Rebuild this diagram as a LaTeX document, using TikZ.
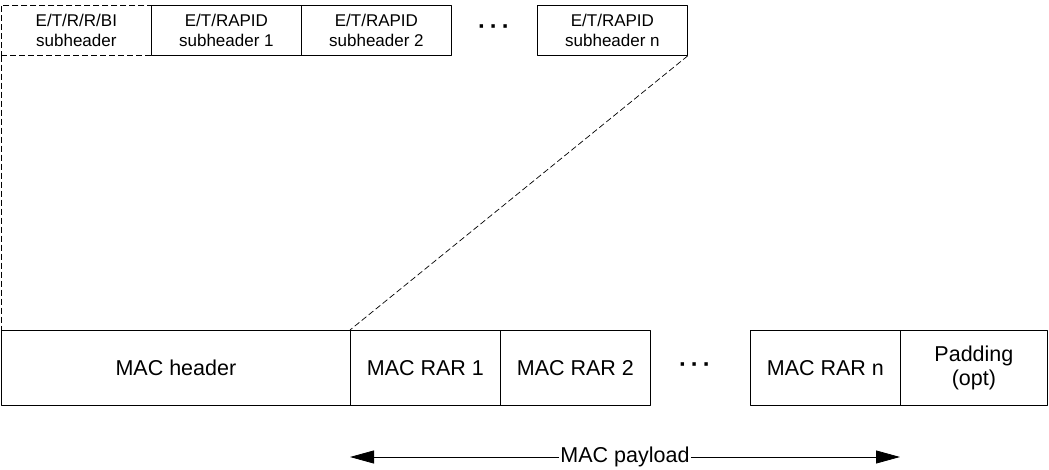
\documentclass[tikz,border=0pt]{standalone}
\usepackage{fontspec}
\setmainfont{Liberation Sans}
\usetikzlibrary{arrows.meta}
\begin{document}
\begin{tikzpicture}[x=1pt,y=-1pt, >={Triangle[length=24pt,width=13pt]}, line width=0.8pt, line join=round,
	subhdr/.style={draw, minimum width=150pt, minimum height=50pt, anchor=north west, inner sep=0pt, align=center, font=\fontsize{17}{19.5}\selectfont},
	pdu/.style={draw, minimum width=150pt, minimum height=75pt, anchor=north west, inner sep=0pt, align=center, font=\fontsize{21.5}{24}\selectfont},
	dots/.style={inner sep=0pt, font=\fontsize{24}{24}\selectfont\bfseries},
	expand/.style={dash pattern=on 6pt off 3pt, line width=0.7pt}]
	\useasboundingbox (0,0) rectangle (1049,470);
	% subheaders
	\node[subhdr, expand] (bi) at (1,5) {E/T/R/R/BI\\subheader};
	\node[subhdr] (sh1) at (151,5) {E/T/RAPID\\subheader 1};
	\node[subhdr] (sh2) at (301,5) {E/T/RAPID\\subheader 2};
	\node[dots] (tdots) at (494,30) {·\,·\,·};
	\node[subhdr] (shn) at (537,5) {E/T/RAPID\\subheader n};
	% MAC PDU
	\node[pdu, minimum width=349pt] (hdr) at (1,330) {MAC header};
	\node[pdu] (rar1) at (350,330) {MAC RAR 1};
	\node[pdu] (rar2) at (500,330) {MAC RAR 2};
	\node[dots] (bdots) at (695,368) {·\,·\,·};
	\node[pdu] (rarn) at (750,330) {MAC RAR n};
	\node[pdu, minimum width=147pt] (pad) at (900,330) {Padding\\(opt)};
	% expansion lines
	\draw[expand] (bi.south west) -- (hdr.north west);
	\draw[expand] (shn.south east) -- (rar1.north west);
	% payload
	\coordinate (pl) at (350,457);
	\coordinate (pr) at (900,457);
	\node[fill=white, inner sep=1pt, font=\fontsize{21.5}{24}\selectfont] (pay) at (625,457) {MAC payload};
	\draw[->] (pay) -- (pl);
	\draw[->] (pay) -- (pr);
\end{tikzpicture}
\end{document}
